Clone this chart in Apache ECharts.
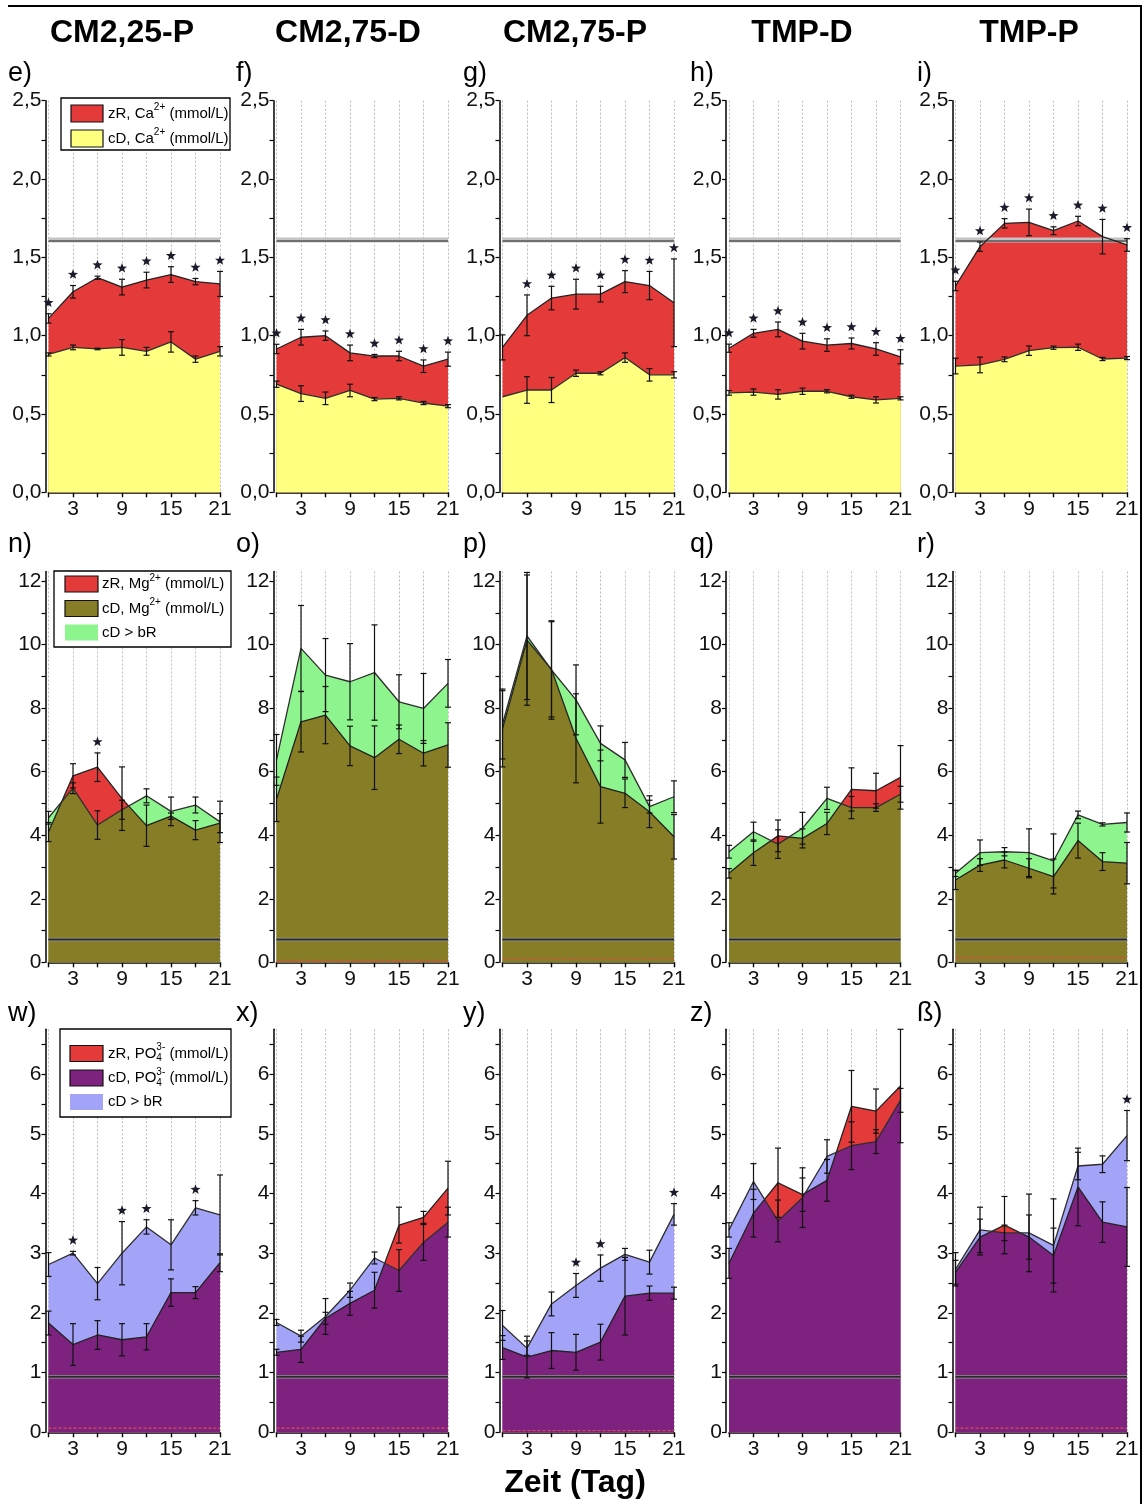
<!DOCTYPE html>
<html><head><meta charset="utf-8">
<script src="https://cdn.jsdelivr.net/npm/echarts@6/dist/echarts.min.js"></script>
<style>html,body{margin:0;padding:0;background:#fff}#c{width:1145px;height:1504px}</style>
</head><body><div id="c"></div>
<script>
// ---------------- data ----------------
const days = [0, 3, 6, 9, 12, 15, 18, 21];
const xTickLabels = [3, 9, 15, 21];
const columnTitles = ['CM2,25-P', 'CM2,75-D', 'CM2,75-P', 'TMP-D', 'TMP-P'];
const panelLetters = [['e)', 'f)', 'g)', 'h)', 'i)'], ['n)', 'o)', 'p)', 'q)', 'r)'], ['w)', 'x)', 'y)', 'z)', 'ß)']];
const xAxisTitle = 'Zeit (Tag)';

const caLabels = [0, 0.5, 1.0, 1.5, 2.0, 2.5];
const caTicks = [0, 0.25, 0.5, 0.75, 1, 1.25, 1.5, 1.75, 2, 2.25, 2.5];
const mgLabels = [0, 2, 4, 6, 8, 10, 12];
const mgTicks = [0, 1, 2, 3, 4, 5, 6, 7, 8, 9, 10, 11, 12];
const poLabels = [0, 1, 2, 3, 4, 5, 6];
const poTicks = [0, 0.5, 1, 1.5, 2, 2.5, 3, 3.5, 4, 4.5, 5, 5.5, 6, 6.5];

// Ca2+ row (e..i)
const caZR = [
  [1.11, 1.28, 1.37, 1.31, 1.355, 1.39, 1.345, 1.33],
  [0.915, 0.99, 1.0, 0.89, 0.87, 0.87, 0.805, 0.85],
  [0.925, 1.13, 1.24, 1.265, 1.265, 1.345, 1.32, 1.21],
  [0.92, 1.015, 1.04, 0.965, 0.94, 0.95, 0.915, 0.865],
  [1.317, 1.568, 1.717, 1.723, 1.67, 1.732, 1.632, 1.579]];
const caZRerr = [
  [0.03, 0.04, 0.01, 0.05, 0.05, 0.05, 0.02, 0.08],
  [0.03, 0.05, 0.03, 0.05, 0.01, 0.03, 0.04, 0.045],
  [0.08, 0.13, 0.075, 0.095, 0.05, 0.07, 0.09, 0.28],
  [0.026, 0.025, 0.047, 0.05, 0.04, 0.035, 0.04, 0.045],
  [0.03, 0.03, 0.03, 0.085, 0.025, 0.03, 0.11, 0.04]];
const caCD = [
  [0.88, 0.925, 0.915, 0.925, 0.90, 0.96, 0.85, 0.90],
  [0.69, 0.63, 0.60, 0.65, 0.595, 0.60, 0.57, 0.55],
  [0.61, 0.653, 0.653, 0.76, 0.76, 0.86, 0.75, 0.75],
  [0.635, 0.64, 0.625, 0.645, 0.645, 0.61, 0.59, 0.60],
  [0.806, 0.813, 0.849, 0.904, 0.923, 0.926, 0.851, 0.857]];
const caCDerr = [
  [0.01, 0.015, 0.005, 0.05, 0.025, 0.065, 0.02, 0.03],
  [0.02, 0.05, 0.04, 0.04, 0.01, 0.01, 0.01, 0.01],
  [0.0, 0.085, 0.08, 0.02, 0.01, 0.03, 0.04, 0.02],
  [0.015, 0.02, 0.03, 0.02, 0.01, 0.01, 0.02, 0.01],
  [0.05, 0.05, 0.015, 0.03, 0.01, 0.02, 0.01, 0.01]];
const caStars = [
  [1, 1, 1, 1, 1, 1, 1, 1],
  [1, 1, 1, 1, 1, 1, 1, 1],
  [0, 1, 1, 1, 1, 1, 1, 1],
  [1, 1, 1, 1, 1, 1, 1, 1],
  [1, 1, 1, 1, 1, 1, 1, 1]];
const caRef = 1.61;
const caLowRed = [null, null, null, null, null];

// Mg2+ row (n..r)
const mgZR = [
  [4.1, 5.87, 6.14, 5.15, 4.3, 4.6, 4.16, 4.38],
  [5.13, 7.57, 7.78, 6.81, 6.44, 7.02, 6.58, 6.84],
  [7.35, 10.14, 9.22, 7.05, 5.53, 5.32, 4.74, 3.95],
  [2.8, 3.45, 3.98, 3.9, 4.37, 5.44, 5.4, 5.82],
  [2.59, 3.06, 3.22, 2.96, 2.7, 3.83, 3.17, 3.12]];
const mgZRerr = [
  [0.3, 0.38, 0.45, 1.0, 0.65, 0.1, 0.3, 0.3],
  [0.7, 0.95, 0.9, 0.62, 1.0, 0.45, 0.4, 0.7],
  [1.2, 2.05, 1.5, 1.4, 1.15, 0.45, 0.5, 0.7],
  [0.15, 0.4, 0.5, 0.3, 0.35, 0.68, 0.55, 1.0],
  [0.3, 0.2, 0.25, 0.3, 0.55, 0.55, 0.28, 0.65]];
const mgCD = [
  [4.55, 5.48, 4.32, 4.8, 5.24, 4.75, 4.95, 4.42],
  [6.37, 9.88, 9.04, 8.83, 9.12, 8.2, 7.99, 8.78],
  [7.5, 10.27, 9.2, 8.26, 6.89, 6.37, 4.9, 5.21],
  [3.48, 4.11, 3.72, 4.22, 5.16, 4.87, 4.87, 5.29],
  [2.8, 3.45, 3.48, 3.45, 3.19, 4.64, 4.34, 4.4]];
const mgCDerr = [
  [0.2, 0.17, 0.45, 0.3, 0.22, 0.45, 0.25, 0.65],
  [0.8, 1.35, 1.15, 1.2, 1.5, 0.85, 1.1, 0.75],
  [1.1, 2.0, 1.55, 1.1, 0.55, 0.55, 0.2, 0.5],
  [0.2, 0.3, 0.45, 0.5, 0.35, 0.35, 0.12, 0.25],
  [0.1, 0.4, 0.13, 0.75, 0.85, 0.12, 0.05, 0.3]];
const mgStars = [
  [0, 0, 1, 0, 0, 0, 0, 0],
  [0, 0, 0, 0, 0, 0, 0, 0],
  [0, 0, 0, 0, 0, 0, 0, 0],
  [0, 0, 0, 0, 0, 0, 0, 0],
  [0, 0, 0, 0, 0, 0, 0, 0]];
const mgRef = 0.72;
const mgLowRed = [null, 0.04, 0.12, null, 0.14];

// PO4 3- row (w..ß)
const poZR = [
  [1.83, 1.47, 1.63, 1.55, 1.6, 2.34, 2.34, 2.84],
  [1.34, 1.39, 1.91, 2.16, 2.38, 3.47, 3.6, 4.09],
  [1.42, 1.26, 1.37, 1.34, 1.51, 2.28, 2.33, 2.33],
  [2.83, 3.67, 4.18, 3.98, 4.22, 5.46, 5.38, 5.8],
  [2.68, 3.27, 3.47, 3.27, 2.96, 4.11, 3.52, 3.44]];
const poZRerr = [
  [0.2, 0.35, 0.24, 0.27, 0.22, 0.23, 0.1, 0.15],
  [0.05, 0.22, 0.1, 0.2, 0.3, 0.3, 0.1, 0.45],
  [0.2, 0.35, 0.3, 0.3, 0.3, 0.65, 0.12, 0.1],
  [0.25, 0.4, 0.58, 0.28, 0.35, 0.6, 0.37, 0.95],
  [0.2, 0.3, 0.48, 0.37, 0.46, 0.65, 0.34, 0.66]];
const poCD = [
  [2.81, 3.0, 2.49, 3.0, 3.44, 3.14, 3.76, 3.64],
  [1.84, 1.61, 1.94, 2.38, 2.92, 2.71, 3.18, 3.52],
  [1.79, 1.41, 2.15, 2.46, 2.75, 2.98, 2.85, 3.65],
  [3.39, 4.2, 3.54, 3.93, 4.62, 4.8, 4.87, 5.56],
  [2.73, 3.39, 3.34, 3.34, 3.13, 4.46, 4.49, 4.97]];
const poCDerr = [
  [0.2, 0.03, 0.27, 0.53, 0.12, 0.42, 0.12, 0.67],
  [0.05, 0.1, 0.3, 0.12, 0.1, 0.35, 0.3, 0.25],
  [0.25, 0.12, 0.2, 0.2, 0.22, 0.1, 0.2, 0.18],
  [0.12, 0.3, 0.35, 0.5, 0.28, 0.4, 0.2, 0.2],
  [0.28, 0.38, 0.13, 0.65, 0.78, 0.23, 0.14, 0.42]];
const poStars = [
  [0, 1, 0, 1, 1, 0, 1, 0],
  [0, 0, 0, 0, 0, 0, 0, 0],
  [0, 0, 0, 1, 1, 0, 0, 1],
  [0, 0, 0, 0, 0, 0, 0, 0],
  [0, 0, 0, 0, 0, 0, 0, 1]];
const poRef = 0.93;
const poLowRed = [0.07, 0.07, 0.03, null, 0.07];

// ---------------- layout / style ----------------
const FONT = '"Liberation Sans", Arial, Helvetica, sans-serif';
const colX0 = [48.5, 276.5, 502.5, 729, 955.5];
const plotW = 171.5;
const rowTop = [100.7, 571.5, 1029.3];
const rowH = [391.6, 390.8, 403];
const RED = '#e53a3a';

const rows = [
  {zr: caZR, zrE: caZRerr, cd: caCD, cdE: caCDerr, st: caStars, ref: caRef, low: caLowRed, max: 2.5,
   labels: caLabels, ticks: caTicks, dec: 1, over: '#ffff80', min: '#ffff80', refWide: true},
  {zr: mgZR, zrE: mgZRerr, cd: mgCD, cdE: mgCDerr, st: mgStars, ref: mgRef, low: mgLowRed, max: 12.3,
   labels: mgLabels, ticks: mgTicks, dec: 0, over: '#8ef58e', min: '#867d26', refWide: false},
  {zr: poZR, zrE: poZRerr, cd: poCD, cdE: poCDerr, st: poStars, ref: poRef, low: poLowRed, max: 6.75,
   labels: poLabels, ticks: poTicks, dec: 0, over: '#a3a3f7', min: '#7e2280', refWide: false}
];

function minPoly(a, b) {
  const out = [];
  for (let i = 0; i < days.length; i++) {
    out.push([days[i], Math.min(a[i], b[i])]);
    if (i < days.length - 1) {
      const d0 = a[i] - b[i], d1 = a[i + 1] - b[i + 1];
      if (d0 * d1 < 0) {
        const t = d0 / (d0 - d1);
        out.push([days[i] + t * (days[i + 1] - days[i]), a[i] + t * (a[i + 1] - a[i])]);
      }
    }
  }
  return out;
}

const grids = [], xAxes = [], yAxes = [], series = [];

function errRender(params, api) {
  const x = api.value(0), y = api.value(1), e = api.value(2);
  if (!e) return null;
  const p1 = api.coord([x, y + e]), p2 = api.coord([x, y - e]);
  const w = 3, st = {stroke: '#111', lineWidth: 1.2};
  return {type: 'group', children: [
    {type: 'line', shape: {x1: p1[0], y1: p1[1], x2: p2[0], y2: p2[1]}, style: st},
    {type: 'line', shape: {x1: p1[0] - w, y1: p1[1], x2: p1[0] + w, y2: p1[1]}, style: st},
    {type: 'line', shape: {x1: p2[0] - w, y1: p2[1], x2: p2[0] + w, y2: p2[1]}, style: st}
  ]};
}
function starRender(params, api) {
  const p = api.coord([api.value(0), api.value(1)]);
  const cx = p[0], cy = p[1] - 11, pts = [];
  for (let k = 0; k < 10; k++) {
    const r = k % 2 ? 2.2 : 5.3, a = -Math.PI / 2 + k * Math.PI / 5;
    pts.push([cx + r * Math.cos(a), cy + r * Math.sin(a)]);
  }
  return {type: 'polygon', shape: {points: pts}, style: {fill: '#1b1b2b'}};
}

rows.forEach((R, r) => {
  for (let c = 0; c < 5; c++) {
    const idx = r * 5 + c;
    grids.push({left: colX0[c], top: rowTop[r], width: plotW, height: rowH[r], outerBoundsMode: 'none', containLabel: false});
    xAxes.push({
      gridIndex: idx, type: 'value', min: 0, max: 21, interval: 3,
      axisLine: {show: true, onZero: false, lineStyle: {color: '#000', width: 1.5}},
      axisTick: {show: true, length: 5, lineStyle: {color: '#000', width: 1.4}},
      axisLabel: {formatter: v => xTickLabels.includes(v) ? String(v) : '', fontSize: 21, color: '#111', fontFamily: FONT, margin: 6},
      splitLine: {show: true, lineStyle: {color: '#bdbdbd', type: [2, 2], width: 1}}
    });
    yAxes.push({
      gridIndex: idx, type: 'value', min: 0, max: R.max, offset: 3,
      interval: r === 0 ? 0.5 : (r === 1 ? 2 : 1),
      axisLine: {show: true, onZero: false, lineStyle: {color: '#000', width: 1.5}},
      axisTick: {show: true, length: 4, customValues: R.ticks, lineStyle: {color: '#000', width: 1.2}},
      axisLabel: {customValues: R.labels, fontSize: 21, color: '#111', fontFamily: FONT, margin: 4,
        formatter: v => R.dec ? v.toFixed(1).replace('.', ',') : String(Math.round(v))},
      splitLine: {show: false}
    });
    const zr = R.zr[c], cd = R.cd[c];
    const base = {xAxisIndex: idx, yAxisIndex: idx, silent: true, animation: false};
    series.push(Object.assign({type: 'line', data: days.map((d, i) => [d, zr[i]]), symbol: 'none',
      lineStyle: {opacity: 0}, areaStyle: {color: RED, opacity: 1}, z: 2}, base));
    series.push(Object.assign({type: 'line', data: days.map((d, i) => [d, cd[i]]), symbol: 'none',
      lineStyle: {opacity: 0}, areaStyle: {color: R.over, opacity: 1}, z: 2}, base));
    series.push(Object.assign({type: 'line', data: minPoly(zr, cd), symbol: 'none',
      lineStyle: {opacity: 0}, areaStyle: {color: R.min, opacity: 1}, z: 2}, base));
    // reference line
    series.push(Object.assign({type: 'custom', z: 3, data: [[0, R.ref]], encode: {x: 0, y: 1},
      renderItem: (p, api) => {
        const a = api.coord([0, api.value(1)]), b = api.coord([21, api.value(1)]);
        return {type: 'group', children: [
          {type: 'line', shape: {x1: a[0], y1: a[1], x2: b[0], y2: b[1]}, style: {stroke: R.refWide ? '#c4c4c4' : '#9a9a9a', lineWidth: R.refWide ? 5 : 3.5}},
          {type: 'line', shape: {x1: a[0], y1: a[1] + (R.refWide ? 1 : 0), x2: b[0], y2: b[1] + (R.refWide ? 1 : 0)}, style: {stroke: R.refWide ? '#555' : '#2a2a2a', lineWidth: R.refWide ? 1.5 : 2}}
        ]};
      }}, base));
    if (R.low[c] != null) {
      series.push(Object.assign({type: 'custom', z: 3, data: [[0, R.low[c]]], encode: {x: 0, y: 1},
        renderItem: (p, api) => {
          const a = api.coord([0, api.value(1)]), b = api.coord([21, api.value(1)]);
          return {type: 'line', shape: {x1: a[0], y1: a[1], x2: b[0], y2: b[1]}, style: {stroke: '#e04848', lineWidth: 1.2, lineDash: [3, 2]}};
        }}, base));
    }
    series.push(Object.assign({type: 'line', data: days.map((d, i) => [d, zr[i]]), symbol: 'none',
      lineStyle: {color: '#222', width: 1.3}, z: 4}, base));
    series.push(Object.assign({type: 'line', data: days.map((d, i) => [d, cd[i]]), symbol: 'none',
      lineStyle: {color: '#2e2e2e', width: 1.3}, z: 4}, base));
    const errData = [];
    days.forEach((d, i) => { errData.push([d, zr[i], R.zrE[c][i]]); errData.push([d, cd[i], R.cdE[c][i]]); });
    series.push(Object.assign({type: 'custom', z: 5, data: errData, encode: {x: 0, y: 1}, renderItem: errRender}, base));
    const starData = [];
    days.forEach((d, i) => {
      if (R.st[c][i]) starData.push([d, Math.max(zr[i] + R.zrE[c][i], cd[i] + R.cdE[c][i])]);
    });
    if (starData.length) series.push(Object.assign({type: 'custom', z: 6, data: starData, encode: {x: 0, y: 1}, renderItem: starRender}, base));
  }
});

// ---------------- graphics: titles, letters, legends, frame ----------------
const graphic = [];
const titleX = [122, 348, 575, 802, 1029];
columnTitles.forEach((t, i) => graphic.push({type: 'text', x: titleX[i], y: 33, style: {text: t, font: 'bold 32px ' + FONT, fill: '#000', align: 'center', verticalAlign: 'middle'}}));
const letterX = [8, 236, 463, 690, 917];
const letterY = [74, 545, 1014];
panelLetters.forEach((row, r) => row.forEach((t, c) => graphic.push({type: 'text', x: letterX[c], y: letterY[r],
  style: {text: t, font: '27px ' + FONT, fill: '#000', align: 'left', verticalAlign: 'middle'}})));
graphic.push({type: 'text', x: 575, y: 1483, style: {text: xAxisTitle, font: 'bold 32px ' + FONT, fill: '#000', align: 'center', verticalAlign: 'middle'}});
graphic.push({type: 'line', shape: {x1: 8, y1: 6, x2: 1142, y2: 6}, style: {stroke: '#000', lineWidth: 2}});
graphic.push({type: 'line', shape: {x1: 1141, y1: 5, x2: 1141, y2: 1504}, style: {stroke: '#000', lineWidth: 2}});

const mctx = document.createElement('canvas').getContext('2d');
function tw(t, size) { mctx.font = size + 'px ' + FONT; return mctx.measureText(t).width; }

function legend(box, sw, entries) {
  graphic.push({type: 'rect', shape: {x: box.x, y: box.y, width: box.w, height: box.h}, style: {fill: '#fff', stroke: '#000', lineWidth: 1.3}, z: 50});
  entries.forEach(e => {
    graphic.push({type: 'rect', shape: {x: sw.x, y: e.cy - sw.h / 2, width: sw.w, height: sw.h},
      style: {fill: e.fill, stroke: e.stroke || null, lineWidth: 1.2}, z: 51});
    let x = sw.tx;
    e.parts.forEach(p => {
      if (p.t) {
        graphic.push({type: 'text', x: x, y: e.cy, z: 52, style: {text: p.t, font: '15px ' + FONT, fill: '#000', verticalAlign: 'middle'}});
        x += tw(p.t, 15);
      } else if (p.sup) {
        graphic.push({type: 'text', x: x, y: e.cy - 6, z: 52, style: {text: p.sup, font: '10px ' + FONT, fill: '#000', verticalAlign: 'middle'}});
        x += tw(p.sup, 10);
      } else if (p.ss) {
        graphic.push({type: 'text', x: x, y: e.cy - 6, z: 52, style: {text: p.ss[0], font: '10px ' + FONT, fill: '#000', verticalAlign: 'middle'}});
        graphic.push({type: 'text', x: x, y: e.cy + 5, z: 52, style: {text: p.ss[1], font: '10px ' + FONT, fill: '#000', verticalAlign: 'middle'}});
        x += Math.max(tw(p.ss[0], 10), tw(p.ss[1], 10));
      }
    });
  });
}
legend({x: 61, y: 98, w: 169, h: 52}, {x: 71, w: 32, h: 17, tx: 108}, [
  {cy: 113.5, fill: RED, stroke: '#111', parts: [{t: 'zR, Ca'}, {sup: '2+'}, {t: ' (mmol/L)'}]},
  {cy: 138.5, fill: '#ffff80', stroke: '#111', parts: [{t: 'cD, Ca'}, {sup: '2+'}, {t: ' (mmol/L)'}]}]);
legend({x: 54, y: 571, w: 177, h: 76}, {x: 65, w: 33, h: 16, tx: 102}, [
  {cy: 584, fill: RED, stroke: '#111', parts: [{t: 'zR, Mg'}, {sup: '2+'}, {t: ' (mmol/L)'}]},
  {cy: 608.5, fill: '#867d26', stroke: '#111', parts: [{t: 'cD, Mg'}, {sup: '2+'}, {t: ' (mmol/L)'}]},
  {cy: 632.5, fill: '#8ef58e', parts: [{t: 'cD > bR'}]}]);
legend({x: 60, y: 1029, w: 171, h: 88}, {x: 70, w: 33, h: 16, tx: 108}, [
  {cy: 1053.5, fill: RED, stroke: '#111', parts: [{t: 'zR, PO'}, {ss: ['3-', '4']}, {t: ' (mmol/L)'}]},
  {cy: 1078, fill: '#7e2280', stroke: '#111', parts: [{t: 'cD, PO'}, {ss: ['3-', '4']}, {t: ' (mmol/L)'}]},
  {cy: 1102, fill: '#a3a3f7', parts: [{t: 'cD > bR'}]}]);

const chart = echarts.init(document.getElementById('c'), null, {renderer: 'canvas'});
chart.setOption({
  animation: false,
  backgroundColor: '#fff',
  textStyle: {fontFamily: FONT},
  grid: grids, xAxis: xAxes, yAxis: yAxes, series: series, graphic: graphic
});
</script></body></html>
